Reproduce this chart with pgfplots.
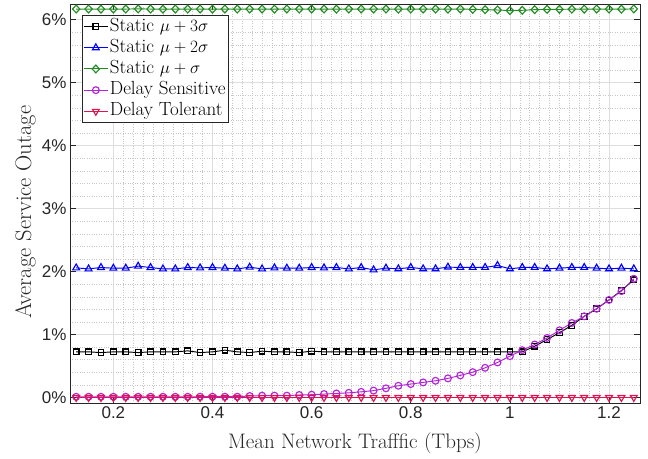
\documentclass[border=0pt]{standalone}
\usepackage{fontspec}
\usepackage{pgfplots}
\pgfplotsset{compat=1.18}
\usepackage{pgfplotstable}
\newfontfamily\ticksans{Liberation Sans}
\definecolor{mgreen}{rgb}{0.13,0.55,0.13}
\definecolor{mmag}{RGB}{180,35,215}
\definecolor{mred}{RGB}{220,20,80}
\definecolor{axc}{rgb}{0.15,0.15,0.15}

\pgfplotstableread{
x s3 s2 s1 ds dt
0.125 0.725 2.059 6.170 0.012 0
0.150 0.725 2.043 6.170 0.012 0
0.175 0.714 2.065 6.168 0.012 0
0.200 0.725 2.054 6.170 0.012 0
0.225 0.725 2.054 6.170 0.012 0
0.250 0.714 2.086 6.172 0.012 0
0.275 0.725 2.065 6.170 0.012 0
0.300 0.725 2.043 6.168 0.012 0
0.325 0.725 2.043 6.170 0.012 0
0.350 0.741 2.065 6.170 0.012 0
0.375 0.714 2.059 6.170 0.013 0
0.400 0.725 2.065 6.168 0.013 0
0.425 0.752 2.054 6.170 0.013 0
0.450 0.725 2.043 6.170 0.013 0
0.475 0.714 2.070 6.170 0.024 0
0.500 0.736 2.043 6.170 0.030 0
0.525 0.725 2.059 6.168 0.030 0
0.550 0.725 2.054 6.170 0.030 0
0.575 0.714 2.054 6.170 0.040 0
0.600 0.736 2.065 6.170 0.045 0
0.625 0.725 2.059 6.170 0.055 0
0.650 0.725 2.065 6.168 0.065 0
0.675 0.725 2.043 6.170 0.075 0
0.700 0.725 2.065 6.170 0.090 0
0.725 0.725 2.027 6.170 0.110 0
0.750 0.725 2.055 6.170 0.146 0
0.775 0.725 2.044 6.168 0.187 0
0.800 0.725 2.066 6.170 0.214 0
0.825 0.725 2.044 6.170 0.240 0
0.850 0.725 2.044 6.170 0.266 0
0.875 0.725 2.071 6.168 0.304 0
0.900 0.725 2.066 6.170 0.351 0
0.925 0.725 2.066 6.165 0.403 0
0.950 0.725 2.066 6.160 0.472 0
0.975 0.725 2.097 6.155 0.557 0
1.000 0.725 2.044 6.145 0.657 0
1.025 0.725 2.066 6.150 0.752 0
1.050 0.815 2.066 6.160 0.842 0
1.075 0.920 2.044 6.165 0.946 0
1.100 1.030 2.055 6.165 1.068 0
1.125 1.147 2.066 6.168 1.184 0
1.150 1.290 2.066 6.168 1.290 0
1.175 1.410 2.055 6.170 1.410 0
1.200 1.550 2.044 6.170 1.550 0
1.225 1.700 2.055 6.168 1.690 0
1.250 1.870 2.044 6.172 1.886 0
}\datatab

\begin{document}
\begin{tikzpicture}
\begin{axis}[
  scale only axis, width=570pt, height=399pt,
  xmin=0.1125, xmax=1.2625, ymin=-0.087, ymax=6.25,
  xtick={0.2,0.4,0.6,0.8,1,1.2}, xticklabels={0.2,0.4,0.6,0.8,1,1.2},
  ytick={0,1,2,3,4,5,6}, yticklabels={0\%,1\%,2\%,3\%,4\%,5\%,6\%},
  minor x tick num=9, minor y tick num=4,
  grid=both,
  major grid style={color=black!13, line width=0.6pt},
  minor grid style={color=black!22, dotted, line width=0.5pt},
  minor tick length=0pt, major tick length=6pt, tick align=inside, tick pos=both,
  axis line style={color=axc, line width=0.8pt},
  major tick style={color=axc, line width=0.6pt},
  ticklabel style={font=\ticksans\fontsize{17}{20}\selectfont, color=axc},
  xlabel={Mean Network Trafffic (Tbps)},
  ylabel={Average Service Outage},
  xlabel style={font=\fontsize{21}{24}\selectfont, color=axc, at={(axis description cs:0.5,-0.115)}, anchor=base},
  ylabel style={font=\fontsize{22.5}{26}\selectfont, color=axc, at={(axis description cs:-0.068,0.478)}, anchor=base},
  legend style={at={(axis description cs:0.021,0.972)}, anchor=north west,
    font=\fontsize{19}{22}\selectfont, draw=axc, inner sep=1.2pt,
    nodes={inner sep=1.5pt, text height=13pt, text depth=4pt}, row sep=1.2pt},
  legend cell align=left,
  legend image code/.code={\draw[mark repeat=2,mark phase=2] plot coordinates {(0pt,0pt)(12pt,0pt)(24pt,0pt)};},
]
\addplot[black, line width=0.95pt, mark=square, mark size=2.8pt, mark options={solid, fill=white, line width=1.15pt}] table[x=x,y=s3] {\datatab};
\addlegendentry{Static $\mu+3\sigma$}
\addplot[blue, line width=0.95pt, mark=triangle, mark size=3.9pt, mark options={solid, fill=white, line width=1.15pt}] table[x=x,y=s2] {\datatab};
\addlegendentry{Static $\mu+2\sigma$}
\addplot[mgreen, line width=0.95pt, mark=diamond, mark size=3.9pt, mark options={solid, fill=white, xscale=1.25, line width=1.15pt}] table[x=x,y=s1] {\datatab};
\addlegendentry{Static $\mu+\sigma$}
\addplot[mmag, line width=0.95pt, mark=o, mark size=3.4pt, mark options={solid, fill=white, line width=1.15pt}] table[x=x,y=ds] {\datatab};
\addlegendentry{Delay Sensitive}
\addplot[mred, line width=0.95pt, mark=triangle, mark size=3.9pt, mark options={solid, fill=white, rotate=180, line width=1.15pt}] table[x=x,y=dt] {\datatab};
\addlegendentry{Delay Tolerant}
\end{axis}
\pgfresetboundingbox
\path (current axis.south west) ++(-70pt,-55pt) rectangle ++(648pt,458pt);
\end{tikzpicture}
\end{document}
